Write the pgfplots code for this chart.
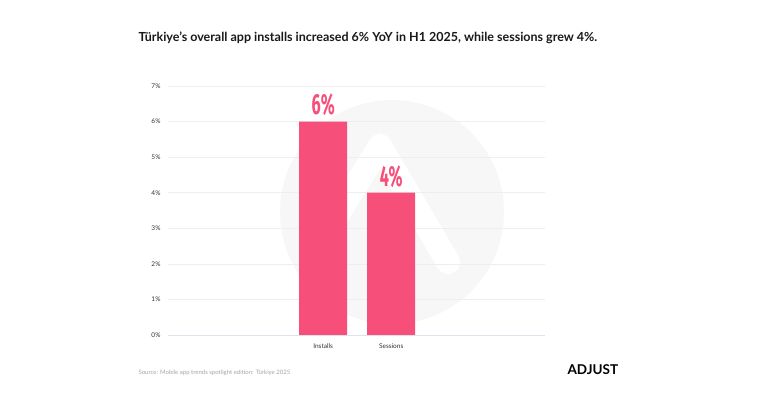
\documentclass[border=0pt]{standalone}
\usepackage{pgfplots}
\pgfplotsset{compat=1.18}
\usepackage{fontspec}
\setmainfont{Lato}
\newfontfamily\numfont[FakeStretch=0.56]{Fira Sans}
\definecolor{barpink}{RGB}{246,80,122}
\definecolor{circ}{RGB}{247,247,248}
\definecolor{gridc}{RGB}{238,238,242}
\definecolor{basec}{RGB}{225,225,235}
\definecolor{ticktext}{RGB}{50,50,50}
\begin{document}
\begin{tikzpicture}[x=1pt,y=1pt]
\path[fill=white] (0,0) rectangle (758,396);
\coordinate (AX) at (168,61);
% watermark
\fill[circ] (392,184) circle (112);
\draw[white,line width=24pt,line cap=round,line join=round] (318,150) -- (380,250) -- (448,134);
\node[anchor=west,font=\bfseries\fontsize{12.5}{14}\selectfont,text=black!90] at (135,358) {Türkiye’s overall app installs increased 6\% YoY in H1 2025, while sessions grew 4\%.};
\node[anchor=west,font=\fontsize{6}{7}\selectfont,text=black!35] at (135,23) {Source: Mobile app trends spotlight edition: Türkiye 2025};
\node[anchor=west,font=\fontsize{13.5}{15}\selectfont\bfseries,text=black] at (564,26) {ADJUST};
\begin{axis}[
  at={(AX)}, anchor=south west,
  scale only axis, width=377pt, height=249pt,
  ymin=0, ymax=7, xmin=-2.28, xmax=3.26,
  axis line style={draw=none},
  ytick={0,1,2,3,4,5,6,7},
  yticklabels={0\%,1\%,2\%,3\%,4\%,5\%,6\%,7\%},
  xtick={0,1}, xticklabels={Installs,Sessions},
  major tick length=0pt,
  ymajorgrids, grid style={gridc, line width=0.6pt},
  tick label style={font=\fontsize{6.5}{7}\selectfont, text=ticktext},
  yticklabel style={xshift=-4pt},
  xticklabel style={yshift=-5pt},
  /pgf/number format/assume math mode=true,
  clip=false,
]
\draw[basec, line width=0.7pt] (axis cs:-2.28,0) -- (axis cs:3.26,0);
\addplot[ybar, bar width=48pt, fill=barpink, draw=none,
  nodes near coords={\numfont\bfseries\pgfmathprintnumber{\pgfplotspointmeta}\%},
  every node near coord/.append style={font=\fontsize{29}{30}\selectfont, text=barpink, anchor=south, yshift=2pt}]
  coordinates {(0,6) (1,4)};
\end{axis}
\end{tikzpicture}
\end{document}
